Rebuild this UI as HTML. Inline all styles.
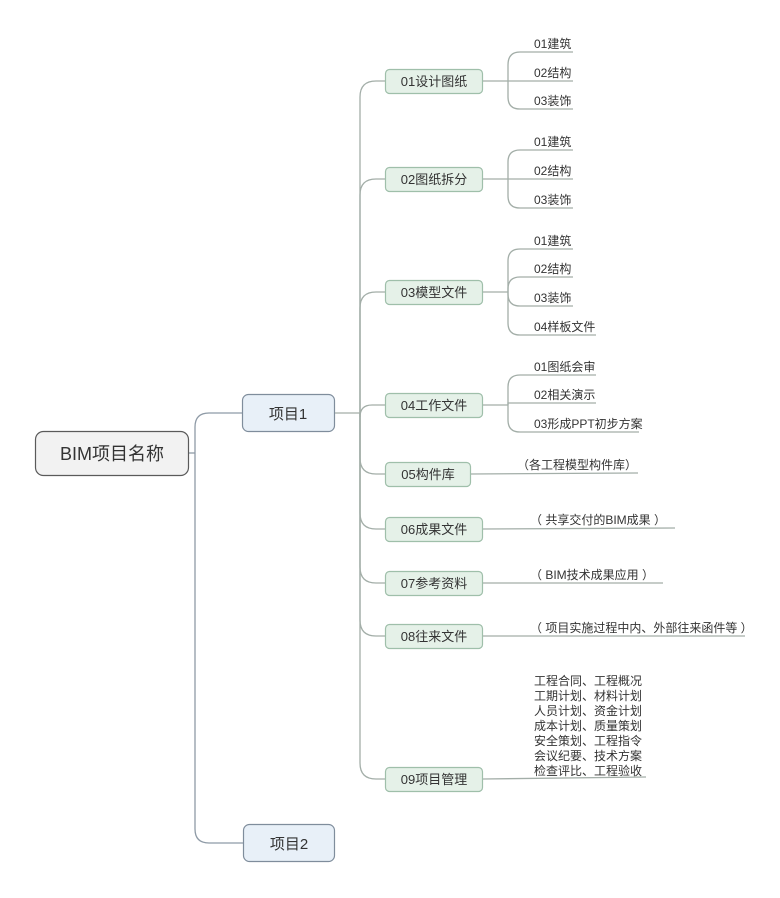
<!DOCTYPE html>
<html>
<head>
<meta charset="utf-8">
<style>
html,body{margin:0;padding:0;background:#fff;}
svg{display:block;}
text{font-family:"Liberation Sans","Noto Sans CJK SC",sans-serif;fill:#333;}
.l{fill:none;stroke:#a3aea8;stroke-width:1.3;}
.lb{fill:none;stroke:#8e9aa6;stroke-width:1.3;}
.b2{fill:#e5f1e8;stroke:#9fbfaa;stroke-width:1.2;}
.t2{font-size:13px;text-anchor:middle;}
.t3{font-size:12px;}
</style>
</head>
<body>
<svg width="780" height="898" viewBox="0 0 780 898" xmlns="http://www.w3.org/2000/svg">
<!-- root connectors -->
<path class="lb" d="M189,453 L195,453"/>
<path class="lb" d="M195,453 L195,427 Q195,413 209,413 L242,413"/>
<path class="lb" d="M195,453 L195,829 Q195,843 209,843 L243,843"/>
<!-- root -->
<rect x="35.5" y="431.5" width="153" height="44" rx="8" fill="#f2f2f2" stroke="#5a5a5a" stroke-width="1.2"/>
<text x="112" y="460" font-size="18" text-anchor="middle">BIM项目名称</text>
<!-- project boxes -->
<rect x="242.5" y="394.5" width="92" height="37" rx="6" fill="#e8f0f8" stroke="#7f8d9c" stroke-width="1.2"/>
<text x="288" y="419" font-size="15" text-anchor="middle">项目1</text>
<rect x="243.5" y="824.5" width="91" height="37" rx="6" fill="#e8f0f8" stroke="#7f8d9c" stroke-width="1.2"/>
<text x="289" y="849" font-size="15" text-anchor="middle">项目2</text>
<!-- project1 to level2 -->
<path class="l" d="M335,413 L360,413"/>
<path class="l" d="M360,413 L360,97 Q360,81 376,81 L385,81"/>
<path class="l" d="M360,413 L360,195 Q360,179 376,179 L385,179"/>
<path class="l" d="M360,413 L360,308 Q360,292 376,292 L385,292"/>
<path class="l" d="M360,413 L360,417 Q360,405 372,405 L385,405"/>
<path class="l" d="M360,413 L360,458 Q360,474 376,474 L385,474"/>
<path class="l" d="M360,413 L360,513 Q360,529 376,529 L385,529"/>
<path class="l" d="M360,413 L360,567 Q360,583 376,583 L385,583"/>
<path class="l" d="M360,413 L360,620 Q360,636 376,636 L385,636"/>
<path class="l" d="M360,413 L360,763 Q360,779 376,779 L385,779"/>
<!-- level2 boxes -->
<rect class="b2" x="385.5" y="69.5" width="97" height="24" rx="4"/><text class="t2" x="434" y="86">01设计图纸</text>
<rect class="b2" x="385.5" y="167.5" width="97" height="24" rx="4"/><text class="t2" x="434" y="184">02图纸拆分</text>
<rect class="b2" x="385.5" y="280.5" width="97" height="24" rx="4"/><text class="t2" x="434" y="297">03模型文件</text>
<rect class="b2" x="385.5" y="393.5" width="97" height="24" rx="4"/><text class="t2" x="434" y="410">04工作文件</text>
<rect class="b2" x="385.5" y="462.5" width="85" height="24" rx="4"/><text class="t2" x="428" y="479">05构件库</text>
<rect class="b2" x="385.5" y="517.5" width="97" height="24" rx="4"/><text class="t2" x="434" y="534">06成果文件</text>
<rect class="b2" x="385.5" y="571.5" width="97" height="24" rx="4"/><text class="t2" x="434" y="588">07参考资料</text>
<rect class="b2" x="385.5" y="624.5" width="97" height="24" rx="4"/><text class="t2" x="434" y="641">08往来文件</text>
<rect class="b2" x="385.5" y="767.5" width="97" height="24" rx="4"/><text class="t2" x="434" y="784">09项目管理</text>
<!-- group 01 -->
<path class="l" d="M483,81 L508,81"/>
<path class="l" d="M508,81 L508,65 Q508,52 520,52 L573,52"/>
<path class="l" d="M508,81 L573,81"/>
<path class="l" d="M508,81 L508,97 Q508,109 520,109 L573,109"/>
<text class="t3" x="534" y="48">01建筑</text>
<text class="t3" x="534" y="77">02结构</text>
<text class="t3" x="534" y="105">03装饰</text>
<!-- group 02 -->
<path class="l" d="M483,179 L508,179"/>
<path class="l" d="M508,179 L508,162 Q508,150 520,150 L573,150"/>
<path class="l" d="M508,179 L573,179"/>
<path class="l" d="M508,179 L508,196 Q508,208 520,208 L573,208"/>
<text class="t3" x="534" y="146">01建筑</text>
<text class="t3" x="534" y="175">02结构</text>
<text class="t3" x="534" y="204">03装饰</text>
<!-- group 03 -->
<path class="l" d="M483,292 L508,292"/>
<path class="l" d="M508,292 L508,261 Q508,249 520,249 L573,249"/>
<path class="l" d="M508,292 L508,289 Q508,277 520,277 L573,277"/>
<path class="l" d="M508,292 L508,294 Q508,306 520,306 L573,306"/>
<path class="l" d="M508,292 L508,323 Q508,335 520,335 L596,335"/>
<text class="t3" x="534" y="245">01建筑</text>
<text class="t3" x="534" y="273">02结构</text>
<text class="t3" x="534" y="302">03装饰</text>
<text class="t3" x="534" y="331">04样板文件</text>
<!-- group 04 -->
<path class="l" d="M483,405 L508,405"/>
<path class="l" d="M508,405 L508,387 Q508,375 520,375 L596,375"/>
<path class="l" d="M508,405 L508,403 L596,403"/>
<path class="l" d="M508,405 L508,420 Q508,432 520,432 L639,432"/>
<text class="t3" x="534" y="371">01图纸会审</text>
<text class="t3" x="534" y="399">02相关演示</text>
<text class="t3" x="534" y="428">03形成PPT初步方案</text>
<!-- 05-08 -->
<path class="l" d="M471,474 L638,473"/>
<text class="t3" x="517" y="469">（各工程模型构件库）</text>
<path class="l" d="M483,529 L675,528"/>
<text class="t3" x="530" y="524">（ 共享交付的BIM成果 ）</text>
<path class="l" d="M483,583 L663,583"/>
<text class="t3" x="530" y="579">（ BIM技术成果应用 ）</text>
<path class="l" d="M483,636 L745,636"/>
<text class="t3" x="530" y="632">（ 项目实施过程中内、外部往来函件等 ）</text>
<!-- 09 -->
<path class="l" d="M483,779 L646,777"/>
<text class="t3" x="534" y="685">工程合同、工程概况</text>
<text class="t3" x="534" y="700">工期计划、材料计划</text>
<text class="t3" x="534" y="715">人员计划、资金计划</text>
<text class="t3" x="534" y="730">成本计划、质量策划</text>
<text class="t3" x="534" y="745">安全策划、工程指令</text>
<text class="t3" x="534" y="760">会议纪要、技术方案</text>
<text class="t3" x="534" y="775">检查评比、工程验收</text>
</svg>
</body>
</html>
